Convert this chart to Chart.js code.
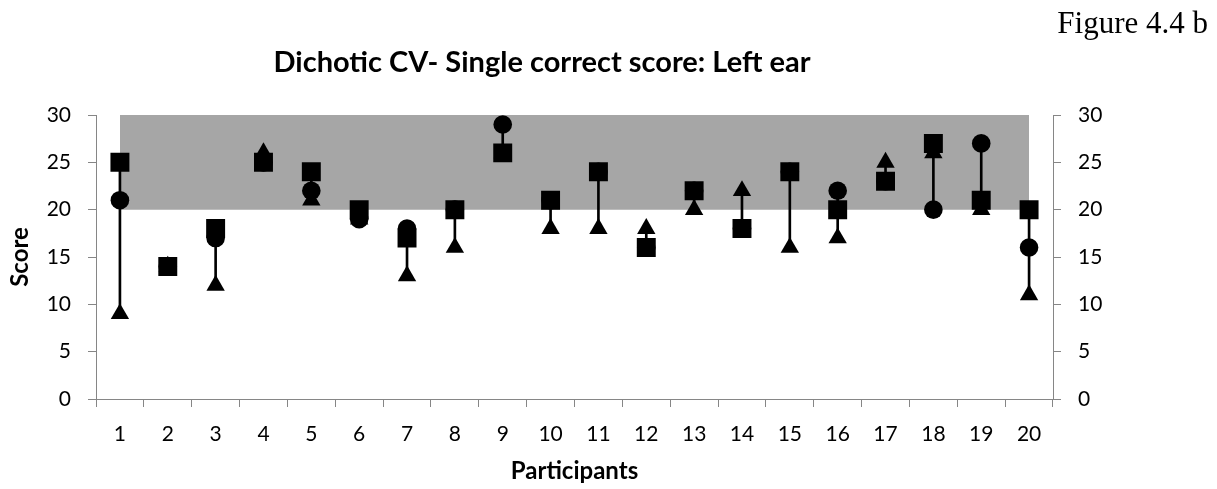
<!DOCTYPE html>
<html>
<head>
<meta charset="utf-8">
<script src="https://cdn.jsdelivr.net/npm/chart.js@4/dist/chart.umd.min.js"></script>
<style>
  html, body { margin: 0; padding: 0; background: #ffffff; }
  #wrap { width: 1217px; height: 489px; position: relative; }
</style>
</head>
<body>
<div id="wrap"><canvas id="chart" width="1217" height="489"></canvas></div>
<script>
// Participants on the category axis
const participants = ['1','2','3','4','5','6','7','8','9','10','11','12','13','14','15','16','17','18','19','20'];

// Single correct scores, left ear, one array per marker series
const circleScores   = [21, 14, 17, 25, 22, 19, 18, 20, 29, 21, 24, 16, 22, 18, 24, 22, 23, 20, 27, 16];
const squareScores   = [25, 14, 18, 25, 24, 20, 17, 20, 26, 21, 24, 16, 22, 18, 24, 20, 23, 27, 21, 20];
const triangleScores = [ 9, 14, 12, 26, 21, 19, 13, 16, 26, 18, 18, 18, 20, 22, 16, 17, 25, 26, 20, 11];

// Normal range band (upper and lower limits per participant)
const normUpper = [30, 30, 30, 30, 30, 30, 30, 30, 30, 30, 30, 30, 30, 30, 30, 30, 30, 30, 30, 30];
const normLower = [20, 20, 20, 20, 20, 20, 20, 20, 20, 20, 20, 20, 20, 20, 20, 20, 20, 20, 20, 20];

// Score axis ticks
const scoreMin = 0;
const scoreMax = 30;
const scoreStep = 5;

// High-low line for each participant: spans the lowest to the highest score
const highLow = participants.map((_, i) => {
  const v = [circleScores[i], squareScores[i], triangleScores[i]];
  return [Math.min(...v), Math.max(...v)];
});

const AXIS_GREY = '#868686';
const TICK_FONT = { family: 'Lato', size: 21 };
const TITLE_FONT = { family: 'Lato', size: 24, weight: 'bold' };

// Headings drawn above the plot
const headings = {
  id: 'headings',
  afterDraw(chart) {
    const ctx = chart.ctx;
    ctx.save();
    ctx.fillStyle = '#000';
    ctx.textBaseline = 'alphabetic';
    ctx.font = '31px "Liberation Serif"';
    ctx.textAlign = 'right';
    ctx.fillText('Figure 4.4 b', 1208, 33);
    ctx.font = 'bold 29px Lato';
    ctx.textAlign = 'center';
    ctx.fillText('Dichotic CV- Single correct score: Left ear', 542, 72);
    ctx.restore();
  }
};

const markerBase = {
  type: 'line',
  showLine: false,
  yAxisID: 'y',
  backgroundColor: '#000',
  borderColor: '#000',
  pointBackgroundColor: '#000',
  pointBorderWidth: 0,
  pointHoverRadius: 0
};

new Chart(document.getElementById('chart'), {
  type: 'line',
  data: {
    labels: participants,
    datasets: [
      Object.assign({}, markerBase, { label: 'Square', data: squareScores, pointStyle: 'rect', pointRadius: 13.4, order: 0 }),
      Object.assign({}, markerBase, { label: 'Triangle', data: triangleScores, pointStyle: 'triangle', pointRadius: 10.6, order: 1 }),
      Object.assign({}, markerBase, { label: 'Circle', data: circleScores, pointStyle: 'circle', pointRadius: 9.3, order: 2 }),
      {
        type: 'bar',
        label: 'Range',
        data: highLow,
        yAxisID: 'y',
        backgroundColor: '#000',
        borderWidth: 0,
        barThickness: 2,
        order: 3
      },
      {
        type: 'line',
        label: 'Norm upper',
        data: normUpper,
        yAxisID: 'y',
        borderWidth: 0,
        pointRadius: 0,
        backgroundColor: '#a6a6a6',
        fill: '+1',
        order: 4
      },
      {
        type: 'line',
        label: 'Norm lower',
        data: normLower,
        yAxisID: 'y',
        borderWidth: 0,
        pointRadius: 0,
        fill: false,
        order: 5
      }
    ]
  },
  options: {
    responsive: false,
    animation: false,
    events: [],
    layout: { padding: { top: 115, left: 0, right: 0, bottom: 0 } },
    plugins: {
      legend: { display: false },
      title: { display: false },
      tooltip: { enabled: false }
    },
    scales: {
      x: {
        type: 'category',
        offset: true,
        border: { color: AXIS_GREY, width: 1 },
        grid: { offset: true, drawOnChartArea: false, color: AXIS_GREY, tickLength: 8 },
        ticks: { color: '#000', font: TICK_FONT, padding: 15, maxRotation: 0, autoSkip: false },
        title: { display: true, text: 'Participants', color: '#000', font: TITLE_FONT, padding: { top: 0, bottom: 3 } },
        afterFit(scale) { scale.height = 90; }
      },
      y: {
        position: 'left',
        min: scoreMin,
        max: scoreMax,
        border: { color: AXIS_GREY, width: 1 },
        grid: { drawOnChartArea: false, color: AXIS_GREY, tickLength: 8 },
        ticks: { stepSize: scoreStep, color: '#000', font: TICK_FONT, padding: 17 },
        title: { display: true, text: 'Score', color: '#000', font: TITLE_FONT, padding: { top: 6, bottom: 0 } },
        afterFit(scale) { scale.width = 96; }
      },
      y2: {
        position: 'right',
        min: scoreMin,
        max: scoreMax,
        border: { color: AXIS_GREY, width: 1 },
        grid: { drawOnChartArea: false, color: AXIS_GREY, tickLength: 8 },
        ticks: { stepSize: scoreStep, color: '#000', font: TICK_FONT, padding: 17 },
        afterFit(scale) { scale.width = 164; }
      }
    }
  },
  plugins: [headings]
});
</script>
</body>
</html>
